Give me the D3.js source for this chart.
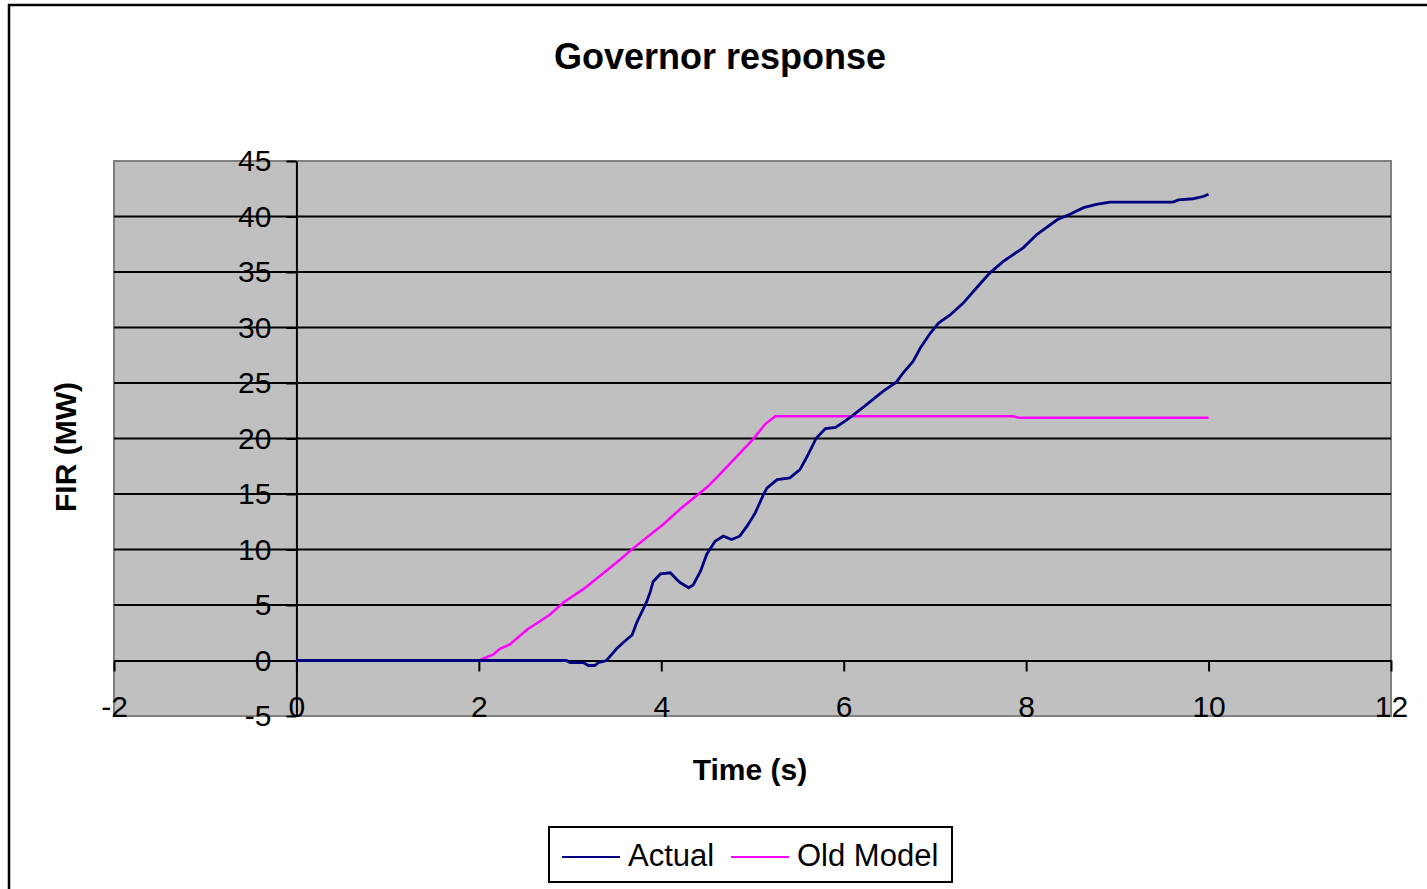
<!DOCTYPE html>
<html>
<head>
<meta charset="utf-8">
<style>
  body { margin: 0; background: #fff; }
  svg { display: block; font-family: Arial, 'Liberation Sans', sans-serif; }
</style>
</head>
<body></body>
<script src="https://cdn.jsdelivr.net/npm/d3@7"></script>
<script>
  // series
  const actualTime = [0, 2.96, 3.0, 3.15, 3.2, 3.27, 3.31, 3.4, 3.44, 3.51, 3.58, 3.68, 3.73, 3.8, 3.84, 3.88,
    3.91, 3.99, 4.1, 4.17, 4.21, 4.3, 4.35, 4.43, 4.5, 4.59, 4.68, 4.77, 4.86, 4.94, 5.03, 5.12, 5.16,
    5.27, 5.41, 5.52, 5.6, 5.7, 5.8, 5.91, 6.03, 6.11, 6.25, 6.43, 6.58, 6.65, 6.76, 6.84, 6.95, 7.04,
    7.17, 7.31, 7.46, 7.6, 7.75, 7.97, 8.12, 8.34, 8.48, 8.63, 8.77, 8.92, 9.61, 9.67, 9.83, 9.94, 10.0]
  const actualFir = [0, 0, -0.2, -0.2, -0.45, -0.45, -0.2, 0, 0.4, 1.05, 1.6, 2.3, 3.4, 4.6, 5.3, 6.2,
    7.1, 7.8, 7.9, 7.3, 7.0, 6.55, 6.8, 8.05, 9.6, 10.75, 11.2, 10.9, 11.2, 12.1, 13.3, 14.95, 15.55,
    16.3, 16.45, 17.2, 18.4, 20.05, 20.9, 21.0, 21.65, 22.15, 23.05, 24.25, 25.1, 25.9, 26.95, 28.15, 29.5, 30.4,
    31.15, 32.2, 33.6, 34.9, 35.95, 37.2, 38.4, 39.7, 40.2, 40.8, 41.1, 41.3, 41.3, 41.5, 41.6, 41.8, 42.0]

  const modelTime = [0, 2.0, 2.16, 2.23, 2.34, 2.53, 2.67, 2.78, 2.93, 3.15, 3.37, 3.55, 3.69, 4.02,
    4.21, 4.5, 4.61, 5.01, 5.14, 5.25, 7.86, 7.93, 10.0]
  const modelFir = [0, 0, 0.54, 1.05, 1.44, 2.79, 3.54, 4.14, 5.25, 6.45, 7.9, 9.1, 10.1, 12.25,
    13.67, 15.6, 16.5, 19.97, 21.3, 22.0, 22.0, 21.86, 21.86]

  const xTicks = [-2, 0, 2, 4, 6, 8, 10, 12]
  const yTicks = [-5, 0, 5, 10, 15, 20, 25, 30, 35, 40, 45]
  const seriesNames = ['Actual', 'Old Model']
  const seriesColors = ['#000080', '#FF00FF']

  const width = 1427
  const height = 889
  const plot = { left: 114, top: 161, right: 1391, bottom: 716 }

  const svg = d3.select('body').append('svg')
    .attr('width', width)
    .attr('height', height)

  // outer chart frame (runs off the right and bottom)
  svg.append('rect')
    .attr('x', 9).attr('y', 5)
    .attr('width', 1440).attr('height', 920)
    .attr('fill', '#fff')
    .attr('stroke', '#000')
    .attr('stroke-width', 2.5)

  const x = d3.scaleLinear().domain([-2, 12]).range([plot.left, plot.right])
  const y = d3.scaleLinear().domain([-5, 45]).range([plot.bottom, plot.top])

  // plot area
  svg.append('rect')
    .attr('x', plot.left).attr('y', plot.top)
    .attr('width', plot.right - plot.left)
    .attr('height', plot.bottom - plot.top)
    .attr('fill', '#C0C0C0')
    .attr('stroke', '#808080')
    .attr('stroke-width', 2)

  // horizontal gridlines
  svg.append('g')
    .selectAll('line')
    .data(yTicks.filter(d => d > 0 && d < 45))
    .enter().append('line')
    .attr('x1', plot.left).attr('x2', plot.right)
    .attr('y1', d => y(d)).attr('y2', d => y(d))
    .attr('stroke', '#000')
    .attr('stroke-width', 2)

  // x axis, crossing at y = 0
  const xAxis = d3.axisBottom(x)
    .tickValues(xTicks)
    .tickFormat(d => String(d))
    .tickSize(11)
    .tickPadding(24)
    .tickSizeOuter(0)
  const gx = svg.append('g')
    .attr('transform', `translate(0, ${y(0)})`)
    .call(xAxis)

  // y axis, crossing at x = 0
  const yAxis = d3.axisLeft(y)
    .tickValues(yTicks)
    .tickFormat(d => String(d))
    .tickSize(10)
    .tickPadding(15)
    .tickSizeOuter(0)
  const gy = svg.append('g')
    .attr('transform', `translate(${x(0)}, 0)`)
    .call(yAxis)

  ;[gx, gy].forEach(g => {
    g.select('.domain').attr('stroke', '#000').attr('stroke-width', 2)
    g.selectAll('.tick line').attr('stroke', '#000').attr('stroke-width', 2)
    g.selectAll('.tick text')
      .attr('fill', '#000')
      .style('font-size', '30px')
      .style('font-family', "Arial, 'Liberation Sans', sans-serif")
  })

  // lines
  const line = d3.line()
    .x(d => x(d[0]))
    .y(d => y(d[1]))

  const actual = actualTime.map((t, i) => [t, actualFir[i]])
  const model = modelTime.map((t, i) => [t, modelFir[i]])

  svg.append('path')
    .datum(model)
    .attr('d', line)
    .attr('fill', 'none')
    .attr('stroke', seriesColors[1])
    .attr('stroke-width', 2.5)

  svg.append('path')
    .datum(actual)
    .attr('d', line)
    .attr('fill', 'none')
    .attr('stroke', seriesColors[0])
    .attr('stroke-width', 2.8)

  // titles
  svg.append('text')
    .attr('x', 720).attr('y', 69)
    .attr('text-anchor', 'middle')
    .style('font-size', '36px')
    .style('font-weight', 'bold')
    .text('Governor response')

  svg.append('text')
    .attr('x', 750).attr('y', 780)
    .attr('text-anchor', 'middle')
    .style('font-size', '30px')
    .style('font-weight', 'bold')
    .text('Time (s)')

  svg.append('text')
    .attr('transform', 'translate(76, 447) rotate(-90)')
    .attr('text-anchor', 'middle')
    .style('font-size', '30px')
    .style('font-weight', 'bold')
    .text('FIR (MW)')

  // legend
  const legend = svg.append('g')
  legend.append('rect')
    .attr('x', 549).attr('y', 827)
    .attr('width', 403).attr('height', 55)
    .attr('fill', '#fff')
    .attr('stroke', '#000')
    .attr('stroke-width', 2)

  const legendX = [562, 731]
  seriesNames.forEach((name, i) => {
    legend.append('line')
      .attr('x1', legendX[i]).attr('x2', legendX[i] + 58)
      .attr('y1', 857).attr('y2', 857)
      .attr('stroke', seriesColors[i])
      .attr('stroke-width', 2.2)
    legend.append('text')
      .attr('x', legendX[i] + 66).attr('y', 866)
      .style('font-size', '31px')
      .text(name)
  })
</script>
</html>
